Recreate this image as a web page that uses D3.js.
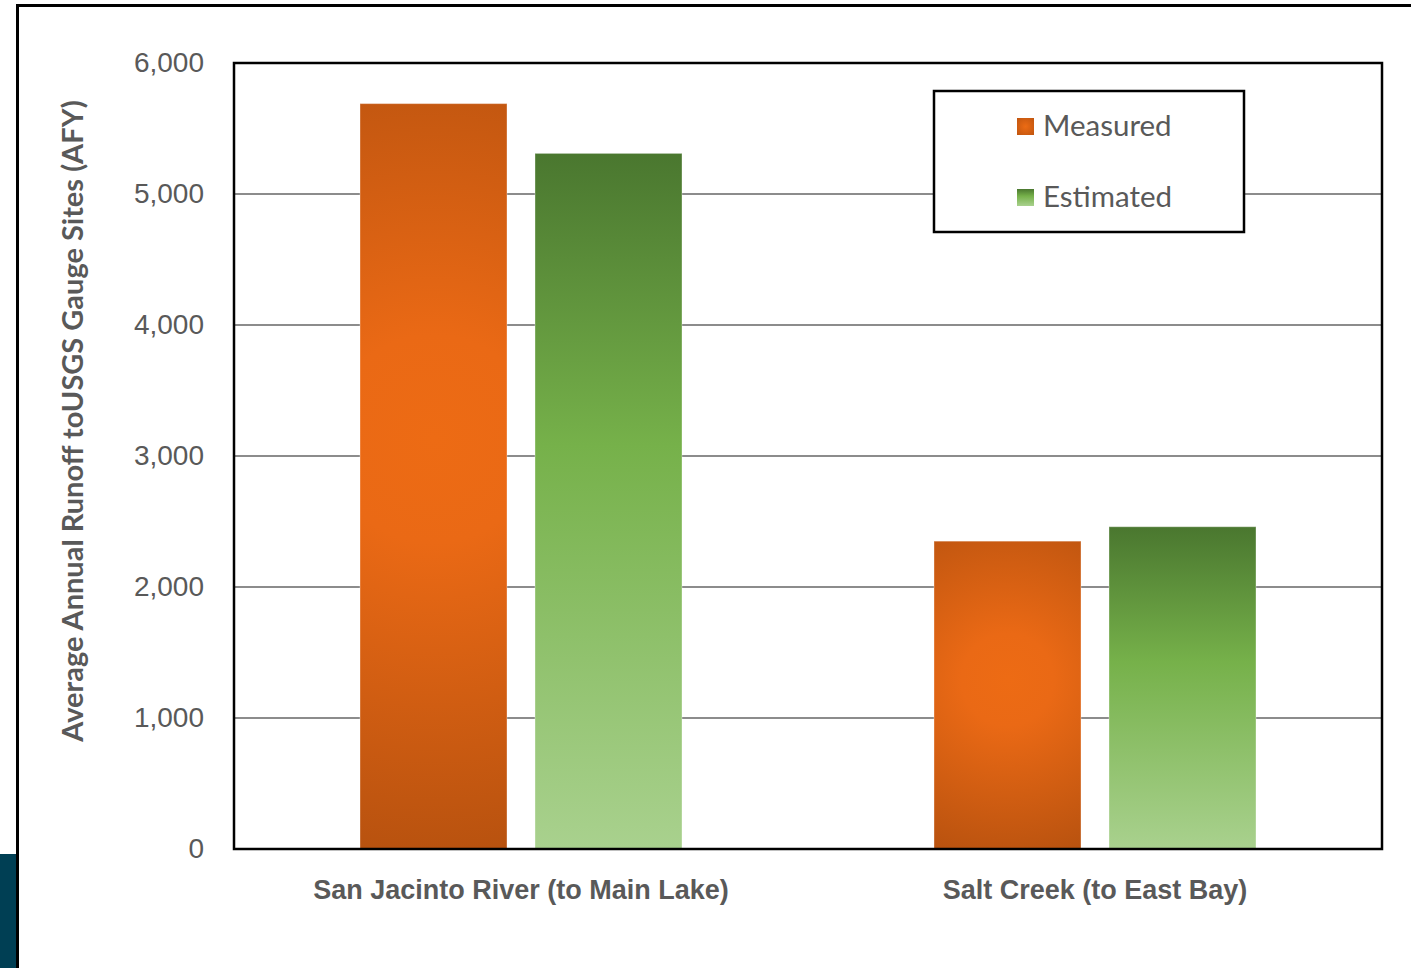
<!DOCTYPE html>
<html>
<head>
<meta charset="utf-8">
<script src="https://cdn.jsdelivr.net/npm/d3@7"></script>
<style>
  html, body { margin: 0; padding: 0; background: #fff; }
  svg { display: block; font-family: Lato, "Open Sans", sans-serif; }
</style>
</head>
<body>
<div id="chart"></div>
<script>
// data
const categories = ['San Jacinto River (to Main Lake)', 'Salt Creek (to East Bay)'];
const seriesNames = ['Measured', 'Estimated'];
const measured = [5690, 2350];
const estimated = [5310, 2460];
const yTicks = [0, 1000, 2000, 3000, 4000, 5000, 6000];

const width = 1411;
const height = 968;
const margin = { top: 63, right: 29, bottom: 119, left: 234 };
const textColor = '#595959';
const groupWidth = 322;

const svg = d3.select('#chart')
    .append('svg')
    .attr('width', width)
    .attr('height', height);

const defs = svg.append('defs');

// green: vertical linear gradient
const green = defs.append('linearGradient')
    .attr('id', 'gradEstimated')
    .attr('x1', 0).attr('y1', 0).attr('x2', 0).attr('y2', 1);
green.append('stop').attr('offset', '0%').attr('stop-color', '#4a772f');
green.append('stop').attr('offset', '42%').attr('stop-color', '#76b14a');
green.append('stop').attr('offset', '100%').attr('stop-color', '#a9d18e');

// small orange swatch for the legend
const orangeSwatch = defs.append('radialGradient')
    .attr('id', 'gradMeasuredSwatch')
    .attr('cx', '50%').attr('cy', '50%').attr('r', '70%');
orangeSwatch.append('stop').attr('offset', '0%').attr('stop-color', '#ec6b14');
orangeSwatch.append('stop').attr('offset', '100%').attr('stop-color', '#c0550f');

// outer frame of the slide chart
svg.append('rect').attr('x', 0).attr('y', 854).attr('width', 16).attr('height', 114).attr('fill', '#003f54');
svg.append('path')
    .attr('d', `M17.5,${height} V5.5 H${width}`)
    .attr('fill', 'none').attr('stroke', '#000').attr('stroke-width', 3);

const x0 = d3.scaleBand()
    .domain(categories)
    .range([margin.left, width - margin.right]);

const x1 = d3.scaleBand()
    .domain(seriesNames)
    .range([0, groupWidth])
    .paddingInner(0.16);

const y = d3.scaleLinear()
    .domain([0, 6000])
    .range([height - margin.bottom, margin.top]);

// gridlines
svg.append('g')
    .selectAll('line')
    .data(yTicks.filter(t => t > 0 && t < 6000))
    .join('line')
    .attr('x1', margin.left).attr('x2', width - margin.right)
    .attr('y1', d => y(d)).attr('y2', d => y(d))
    .attr('stroke', '#8c8c8c').attr('stroke-width', 2);

// bar records built from the arrays
const barData = categories.flatMap((c, i) => [measured[i], estimated[i]].map((v, j) => {
    const bx = x0(c) + (x0.bandwidth() - groupWidth) / 2 + x1(seriesNames[j]);
    return { cat: i, key: seriesNames[j], value: v, j, x: bx };
}));

// orange: a radial glow per bar, in user space so it stays round
barData.filter(d => d.j === 0).forEach(d => {
    const w = x1.bandwidth();
    const top = y(d.value), bottom = y(0);
    const g = defs.append('radialGradient')
        .attr('id', `gradMeasured${d.cat}`)
        .attr('gradientUnits', 'userSpaceOnUse')
        .attr('cx', d.x + w / 2)
        .attr('cy', top + (bottom - top) * 0.45)
        .attr('r', Math.hypot(w / 2, (bottom - top) * 0.55));
    g.append('stop').attr('offset', '0%').attr('stop-color', '#ed6b14');
    g.append('stop').attr('offset', '25%').attr('stop-color', '#ea6915');
    g.append('stop').attr('offset', '100%').attr('stop-color', '#b8520f');
});

svg.append('g')
    .selectAll('rect')
    .data(barData)
    .join('rect')
    .attr('x', d => d.x)
    .attr('width', x1.bandwidth())
    .attr('y', d => y(d.value))
    .attr('height', d => y(0) - y(d.value))
    .attr('fill', d => d.j === 0 ? `url(#gradMeasured${d.cat})` : 'url(#gradEstimated)')
    .attr('stroke', 'rgba(255,255,255,0.35)')
    .attr('stroke-width', 1);

// plot area border
svg.append('rect')
    .attr('x', margin.left).attr('y', margin.top)
    .attr('width', width - margin.left - margin.right)
    .attr('height', height - margin.top - margin.bottom)
    .attr('fill', 'none').attr('stroke', '#000').attr('stroke-width', 2.5);

// y axis
const yAxis = svg.append('g')
    .attr('transform', `translate(${margin.left},0)`)
    .call(d3.axisLeft(y).tickValues(yTicks).tickFormat(d3.format(',')).tickSize(0).tickPadding(30));
yAxis.select('.domain').remove();
yAxis.selectAll('text')
    .attr('fill', textColor)
    .style('font-size', '28px')
    .attr('dy', '0.3em');

// x axis
const xAxis = svg.append('g')
    .attr('transform', `translate(0,${height - margin.bottom})`)
    .call(d3.axisBottom(x0).tickSize(0).tickPadding(31));
xAxis.select('.domain').remove();
xAxis.selectAll('text')
    .attr('fill', textColor)
    .style('font-size', '27px')
    .style('font-weight', 'bold');

// y axis title
svg.append('text')
    .attr('transform', 'translate(83,421) rotate(-90)')
    .attr('text-anchor', 'middle')
    .attr('fill', textColor)
    .style('font-size', '29px')
    .style('font-weight', 'bold')
    .text('Average Annual Runoff toUSGS Gauge Sites (AFY)');

// legend
const legend = svg.append('g');
legend.append('rect')
    .attr('x', 934).attr('y', 91).attr('width', 310).attr('height', 141)
    .attr('fill', '#fff').attr('stroke', '#000').attr('stroke-width', 2.5);
const items = legend.selectAll('g.item')
    .data(seriesNames)
    .join('g')
    .attr('class', 'item')
    .attr('transform', (d, i) => `translate(1017,${126 + i * 71})`);
items.append('rect')
    .attr('x', 0).attr('y', -8).attr('width', 17).attr('height', 17)
    .attr('fill', (d, i) => i === 0 ? 'url(#gradMeasuredSwatch)' : 'url(#gradEstimated)');
items.append('text')
    .attr('x', 26).attr('y', 0).attr('dy', '0.33em')
    .attr('fill', textColor)
    .style('font-size', '29.5px')
    .text(d => d);
</script>
</body>
</html>
